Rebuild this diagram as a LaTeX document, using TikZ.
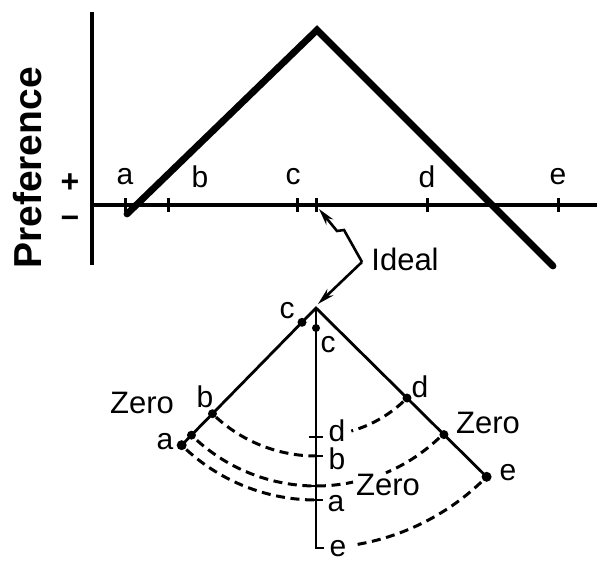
\documentclass[tikz,border=0pt]{standalone}
\usepackage{fontspec}
\setmainfont{Liberation Sans}
\usetikzlibrary{arrows.meta}

\begin{document}
\begin{tikzpicture}[x=0.5pt,y=0.5pt,
		lbl/.style={font=\fontsize{15}{17}\selectfont,inner sep=0pt},
		big/.style={font=\fontsize{15.5}{17}\selectfont,inner sep=0pt},
		fanline/.style={line width=1.4pt},
		dasharc/.style={line width=1.5pt,dash pattern=on 4.5pt off 2.8pt},
		pt/.style={circle,fill,inner sep=0pt,minimum size=4.5pt},
		tip/.style={-{Stealth[length=8.5pt,width=4.4pt]},line width=1.3pt}]
		
		\useasboundingbox (0,0) rectangle (597,561);
		
		\coordinate (O) at (92,356);
		\coordinate (Ytop) at (92,549);
		\coordinate (Ybot) at (92,296);
		\coordinate (Xend) at (597,356);
		
		\coordinate (A) at (127,347);
		\coordinate (P) at (317,531);
		\coordinate (E) at (553,295);
		
		\draw[line width=1.7pt] (Ytop)--(Ybot);
		\draw[line width=1.7pt] (O)--(Xend);
		
		\foreach \x/\l/\lx in {125/a/125,168/b/200,297/c/293,427/d/427,558/e/558}{
			\draw[line width=1.5pt] (\x,349)--(\x,363);
			\node[lbl] (top\l) at (\lx,384) {\l};
		}
		\coordinate (Ideal) at (316,356);
		\draw[line width=1.5pt] (316,349)--(316,363);
		
		\draw[line width=3.4pt,line cap=round,line join=miter]
		(A)--(P)--(E);
		
		\node[font=\bfseries\fontsize{19.5}{21}\selectfont,rotate=90]
		(pref) at (28,393) {Preference};
		\node[font=\bfseries\fontsize{16}{17}\selectfont] (plus) at (70,378) {+};
		\node[font=\bfseries\fontsize{16}{17}\selectfont] (minus) at (70,339) {−};
		
		% fan below
		\coordinate (F) at (316,253);
		\coordinate (K) at (362,299);
		\node[big,anchor=west] (ideal) at (371,302) {Ideal};
		
		\draw[tip] (K)--(344,331)--(337,330)--(319,352);
		\draw[tip] (K)--(318,257);
		
		\coordinate (La) at ([shift={(225.6:192)}]F);
		\coordinate (Re) at ([shift={(315.3:240)}]F);
		\coordinate (Ve) at ([shift={(0,-240)}]F);
		
		\draw[fanline] (La)--(F)--(Re);
		\draw[fanline] (F)--(Ve)--++(8,0);
		
		\foreach \r in {129,148,178,192}
		\draw[fanline] ([shift={(-7,-\r)}]F)--++(14,0);
		
		\foreach \r/\n in {20/c,148/b,178/z}
		\node[pt] (L\n) at ([shift={(225.6:\r)}]F) {};
		\node[pt,minimum size=5pt] (La) at (La) {};
		\foreach \r/\n in {128/d,180/z}
		\node[pt] (R\n) at ([shift={(315.3:\r)}]F) {};
		\node[pt,minimum size=5pt] (Re) at (Re) {};
		\node[pt,minimum size=4pt] (Vc) at ([shift={(0,-20)}]F) {};
		
		\draw[dasharc] ([shift={(227.5:148)}]F) arc[start angle=227.5,end angle=270,radius=148];
		\draw[dasharc] ([shift={(228:178)}]F) arc[start angle=228,end angle=282,radius=178];
		\draw[dasharc] ([shift={(227.5:192)}]F) arc[start angle=227.5,end angle=270,radius=192];
		\draw[dasharc] ([shift={(313:128)}]F) arc[start angle=313,end angle=286,radius=128];
		\draw[dasharc] ([shift={(313.5:179)}]F) arc[start angle=313.5,end angle=293,radius=179];
		\draw[dasharc] ([shift={(313.5:240)}]F) arc[start angle=313.5,end angle=279,radius=240];
		
		\node[lbl] (lc) at (287,250) {c};
		\node[lbl] (lb) at (205,164) {b};
		\node[big] (lz) at (142,158) {Zero};
		\node[lbl] (la) at (165,119) {a};
		
		\node[lbl] (vc) at (328,216) {c};
		\node[lbl] (vd) at (337,130) {d};
		\node[lbl] (vb) at (337,102) {b};
		\node[big] (vz) at (388,76) {Zero};
		\node[lbl] (va) at (336,57) {a};
		\node[lbl] (ve) at (338,12) {e};
		
		\node[lbl] (rd) at (420,174) {d};
		\node[big] (rz) at (488,138) {Zero};
		\node[lbl] (re) at (508,88) {e};
		
	\end{tikzpicture}
\end{document}
